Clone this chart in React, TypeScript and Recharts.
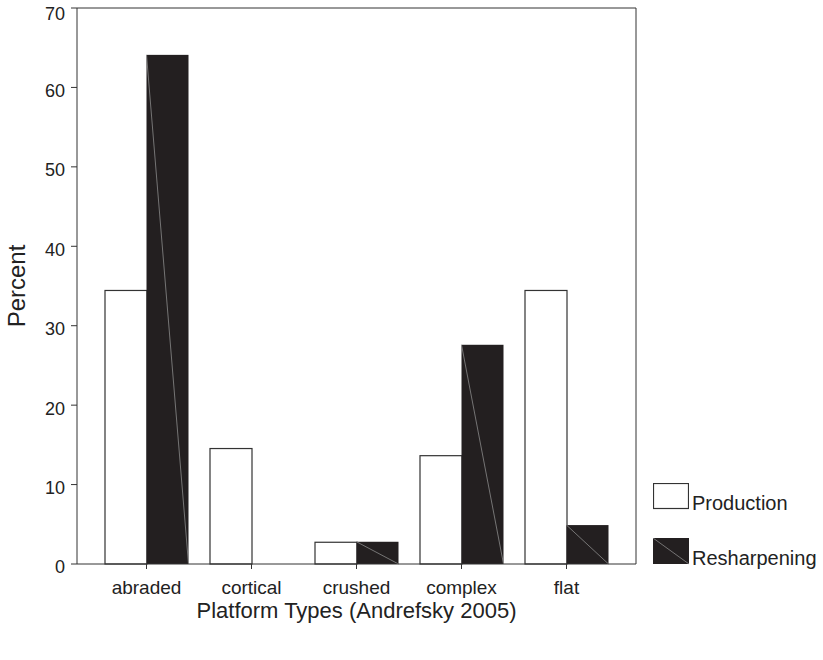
import { Bar, BarChart, XAxis, YAxis, Label } from "recharts";

const categories = ["abraded", "cortical", "crushed", "complex", "flat"];
const production = [34.5, 14.6, 2.8, 13.7, 34.5];
const resharpening = [64.1, 0, 2.8, 27.6, 4.9];
const yTicks = [0, 10, 20, 30, 40, 50, 60, 70];

const data = categories.map((name, i) => ({
  name,
  production: production[i],
  resharpening: resharpening[i],
}));

const FONT = "'Liberation Sans', Arial, sans-serif";
const DARK = "#231f20";

function DarkBar(props: any) {
  const { x, y, width, height } = props;
  if (!height || height <= 0) return null;
  return (
    <g>
      <rect x={x} y={y} width={width} height={height} fill={DARK} />
      <line x1={x} y1={y} x2={x + width} y2={y + height} stroke="#8a8a8a" strokeWidth={0.8} />
    </g>
  );
}

function LightBar(props: any) {
  const { x, y, width, height } = props;
  if (!height || height <= 0) return null;
  return (
    <rect x={x + 0.5} y={y + 0.5} width={width} height={height - 0.5} fill="#fff" stroke="#333" strokeWidth={1.2} />
  );
}

function LegendBox() {
  return (
    <div style={{ position: "absolute", left: 653, top: 483, fontFamily: FONT, fontSize: 20, color: "#222" }}>
      <div style={{ display: "flex", alignItems: "flex-end", height: 27 }}>
        <svg width={36} height={27}>
          <rect x={0.5} y={0.5} width={35} height={25} fill="#fff" stroke="#333" strokeWidth={1.2} />
        </svg>
        <span style={{ marginLeft: 3, lineHeight: "20px", marginBottom: -3 }}>Production</span>
      </div>
      <div style={{ display: "flex", alignItems: "flex-end", height: 27, marginTop: 28 }}>
        <svg width={36} height={27}>
          <rect x={0} y={0} width={36} height={26} fill={DARK} />
          <line x1={0} y1={0} x2={36} y2={26} stroke="#8a8a8a" strokeWidth={0.8} />
        </svg>
        <span style={{ marginLeft: 3, lineHeight: "20px", marginBottom: -3 }}>Resharpening</span>
      </div>
    </div>
  );
}

export default function App() {
  return (
    <div style={{ position: "absolute", left: 0, top: 0, width: 823, height: 660, background: "#fff" }}>
      <BarChart
        width={823}
        height={660}
        data={data}
        margin={{ top: 7, right: 186, bottom: 0, left: 0 }}
        barCategoryGap="10%"
        barGap={0}
      >
        <XAxis
          dataKey="name"
          padding={{ left: 17, right: 17 }}
          stroke="#333"
          tickLine={{ stroke: "#333" }}
          tickSize={5}
          tickMargin={12}
          tick={{ fill: "#222", fontSize: 19, fontFamily: FONT }}
          height={96}
          interval={0}
        >
          <Label
            value="Platform Types (Andrefsky 2005)"
            position="insideBottom"
            offset={42}
            style={{ fill: "#222", fontSize: 22, fontFamily: FONT }}
          />
        </XAxis>
        <XAxis xAxisId="top" dataKey="name" orientation="top" tick={false} tickLine={false} height={1} stroke="#333" />
        <YAxis
          domain={[0, 70]}
          ticks={yTicks}
          stroke="#333"
          tickSize={6}
          tickMargin={6}
          width={77}
          tick={{ fill: "#222", fontSize: 18, fontFamily: FONT, dy: 3 }}
        >
          <Label
            value="Percent"
            angle={-90}
            position="insideLeft"
            offset={16}
            style={{ fill: "#222", fontSize: 24, fontFamily: FONT, textAnchor: "middle" }}
          />
        </YAxis>
        <YAxis yAxisId="right" orientation="right" domain={[0, 70]} tick={false} tickLine={false} width={1} stroke="#333" />
        <Bar dataKey="production" shape={<LightBar />} isAnimationActive={false} />
        <Bar dataKey="resharpening" shape={<DarkBar />} isAnimationActive={false} />
      </BarChart>
      <LegendBox />
    </div>
  );
}
